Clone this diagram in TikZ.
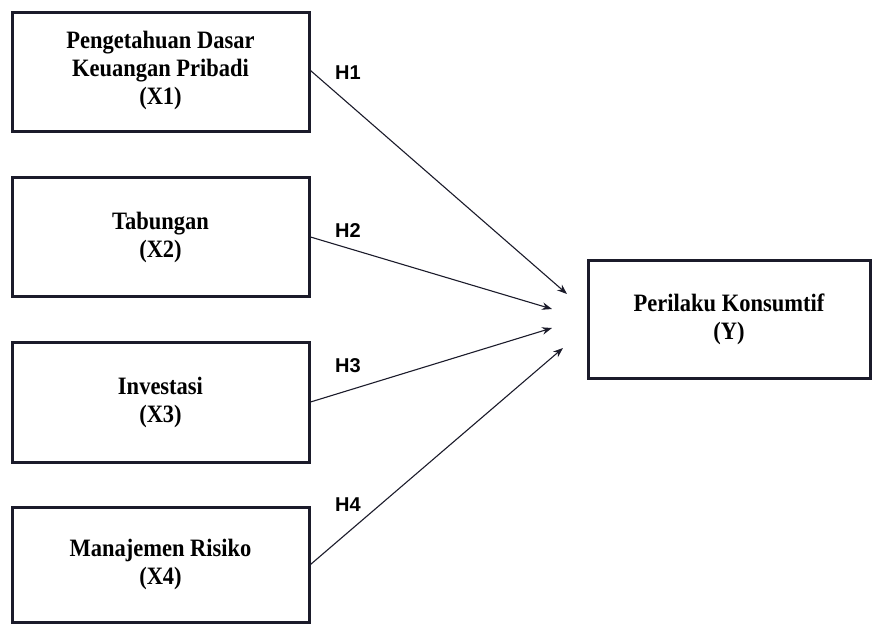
\documentclass[tikz,border=0pt]{standalone}
\usepackage{fontspec}
\setmainfont{Liberation Serif}
\newfontfamily\boxfont[FakeStretch=0.9]{Liberation Serif}
\newfontfamily\hfont{Liberation Sans}
\usetikzlibrary{arrows.meta}
\definecolor{edge}{HTML}{1B1B2A}
\begin{document}
\begin{tikzpicture}[x=1pt,y=-1pt,
  varbox/.style={draw=edge,line width=3pt,minimum width=297pt,minimum height=119pt,
    align=center,font=\boxfont\fontsize{25}{28}\selectfont\bfseries,inner sep=0pt},
  link/.style={draw=edge,line width=1.1pt,-{Stealth[length=10pt,width=7.5pt]}},
  hlab/.style={font=\hfont\fontsize{20}{22}\selectfont\bfseries,text=black,inner sep=0pt}]
\useasboundingbox (0,0) rectangle (873,624);
\node[varbox,text depth=8pt] (x1) at (160.5,71.5) {Pengetahuan Dasar\\Keuangan Pribadi\\(X1)};
\node[varbox] (x2) at (160.5,237) {Tabungan\\(X2)};
\node[varbox,minimum height=120pt] (x3) at (160.5,402) {Investasi\\(X3)};
\node[varbox,minimum height=115pt] (x4) at (160.5,564.5) {Manajemen Risiko\\(X4)};
\node[varbox,minimum width=282pt,minimum height=118pt] (y) at (729,319) {Perilaku Konsumtif\\(Y)};
\coordinate (e1) at (567,294);
\coordinate (e2) at (552,309);
\coordinate (e3) at (552,328);
\coordinate (e4) at (563,348);
\draw[link] ([yshift=1pt]x1.east) -- (e1);
\draw[link] (x2.east) -- (e2);
\draw[link] (x3.east) -- (e3);
\draw[link] (x4.east) -- (e4);
\node[hlab,anchor=west] (h1) at (335,72.5) {H1};
\node[hlab,anchor=west] (h2) at (335,231) {H2};
\node[hlab,anchor=west] (h3) at (335,366) {H3};
\node[hlab,anchor=west] (h4) at (335,505) {H4};
\end{tikzpicture}
\end{document}
